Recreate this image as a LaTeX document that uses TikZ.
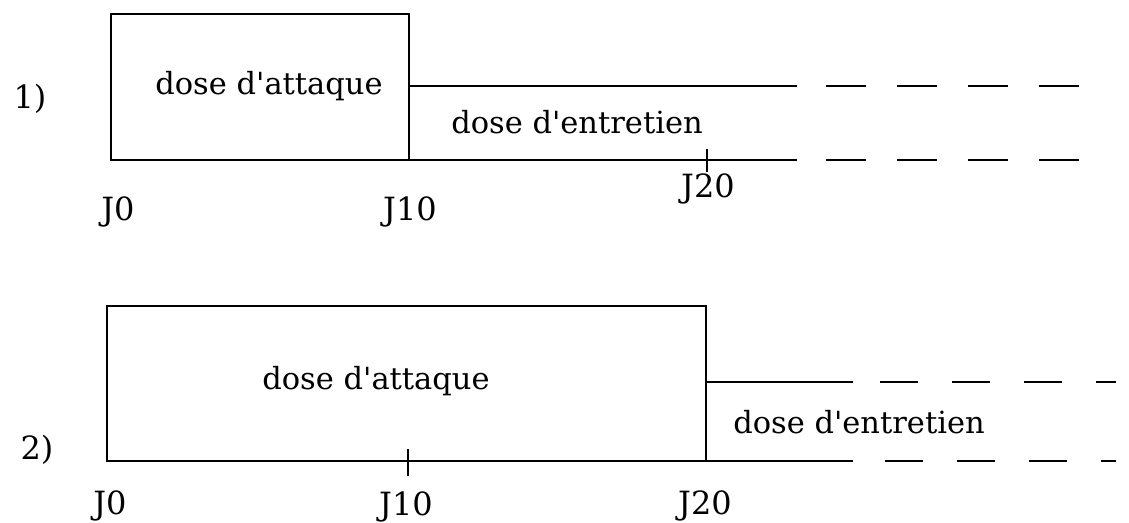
\documentclass[tikz,border=0pt]{standalone}
\usepackage{fontspec}
\newfontfamily\dvs{DejaVu Serif}
\begin{document}
\begin{tikzpicture}[x=1pt,y=-1pt,
  ln/.style={line width=2.2pt},
  dsh1/.style={line width=2.2pt,dash pattern=on 40pt off 31pt},
  dsh2/.style={line width=2.2pt,dash pattern=on 38pt off 34pt},
  lbl/.style={anchor=base,inner sep=0pt,font=\dvs\fontsize{30.5}{36}\selectfont},
  num/.style={anchor=base,inner sep=0pt,font=\dvs\fontsize{32}{36}\selectfont}]
\useasboundingbox (0,0) rectangle (1129,522);
% ---------- diagram 1 ----------
\coordinate (a1tl) at (111,14);
\coordinate (a1tr) at (409,14);
\coordinate (a1br) at (409,160);
\coordinate (a1bl) at (111,160);
\coordinate (e1t0) at (409,86);
\coordinate (e1t1) at (797,86);
\coordinate (e1t2) at (826,86);
\coordinate (e1t3) at (1081,86);
\coordinate (e1b1) at (797,160);
\coordinate (e1b2) at (826,160);
\coordinate (e1b3) at (1081,160);
\coordinate (t1a) at (707,149);
\coordinate (t1b) at (707,172);
\draw[ln] (a1tl) -- (a1tr) -- (a1br) -- (a1bl) -- cycle;
\draw[ln] (e1t0) -- (e1t1);
\draw[dsh1] (e1t2) -- (e1t3);
\draw[ln] (a1br) -- (e1b1);
\draw[dsh1] (e1b2) -- (e1b3);
\draw[ln] (t1a) -- (t1b);
\node[num] (n1) at (30,108) {1)};
\node[lbl] (att1) at (269,94) {dose d'attaque};
\node[lbl] (ent1) at (577,133) {dose d'entretien};
\node[num] (j0a) at (118,220) {J0};
\node[num] (j10a) at (410,220) {J10};
\node[num] (j20a) at (708,197) {J20};
% ---------- diagram 2 ----------
\coordinate (a2tl) at (107,306);
\coordinate (a2tr) at (706,306);
\coordinate (a2br) at (706,461);
\coordinate (a2bl) at (107,461);
\coordinate (e2t0) at (706,382);
\coordinate (e2t1) at (853,382);
\coordinate (e2t2) at (880,382);
\coordinate (e2t3) at (1116,382);
\coordinate (e2b1) at (853,461);
\coordinate (e2b2) at (885,461);
\coordinate (e2b3) at (1116,461);
\coordinate (t2a) at (408,449);
\coordinate (t2b) at (408,476);
\draw[ln] (a2tl) -- (a2tr) -- (a2br) -- (a2bl) -- cycle;
\draw[ln] (e2t0) -- (e2t1);
\draw[dsh2] (e2t2) -- (e2t3);
\draw[ln] (a2br) -- (e2b1);
\draw[dsh2] (e2b2) -- (e2b3);
\draw[ln] (t2a) -- (t2b);
\node[num] (n2) at (37,459) {2)};
\node[lbl] (att2) at (376,389) {dose d'attaque};
\node[lbl] (ent2) at (859,433) {dose d'entretien};
\node[num] (j0b) at (110,514) {J0};
\node[num] (j10b) at (406,515) {J10};
\node[num] (j20b) at (705,514) {J20};
\end{tikzpicture}
\end{document}
